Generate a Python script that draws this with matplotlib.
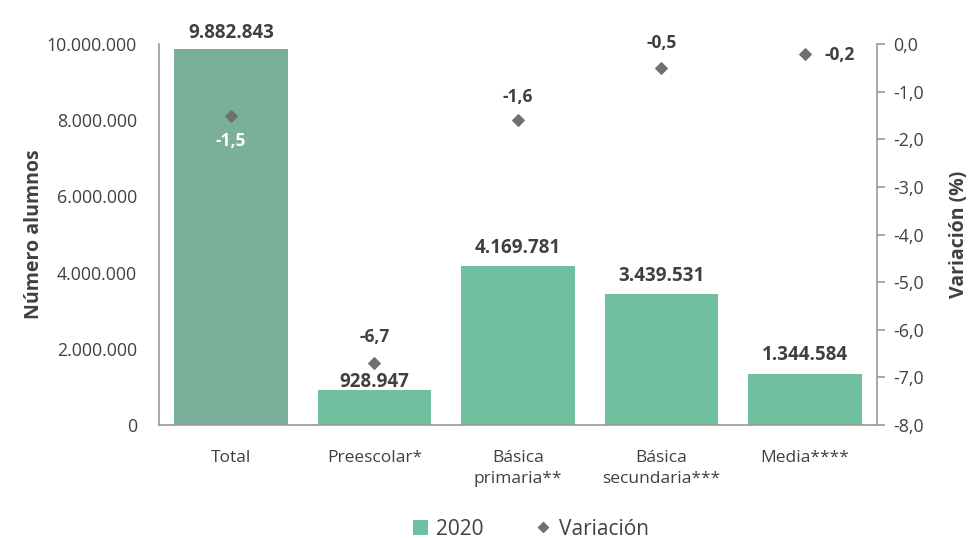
import numpy as np
import matplotlib.pyplot as plt
from matplotlib.lines import Line2D
from matplotlib.patches import Patch

plt.rcParams['font.family'] = ['Open Sans', 'DejaVu Sans']

## Data
categorias = ["Total", "Preescolar*", "Básica\nprimaria**", "Básica\nsecundaria***", "Media****"]
alumnos_2020 = [9882843, 928947, 4169781, 3439531, 1344584]
variacion = [-1.5, -6.7, -1.6, -0.5, -0.2]

def fmt_miles(v):
    return f"{v:,.0f}".replace(",", ".")

def fmt_dec(v):
    return f"{v:.1f}".replace(".", ",")

c_total = "#7aaf99"
c_bar = "#70c09f"
c_marker = "#707070"
c_text = "#404040"
c_spine = "#9a9a9a"

fig = plt.figure(figsize=(9.71, 5.38), dpi=100)
ax = fig.add_axes([0.1638, 0.21, 0.7392, 0.708])
ax2 = ax.twinx()

x = np.arange(len(categorias))
colores = [c_total] + [c_bar] * (len(categorias) - 1)
ax.bar(x, alumnos_2020, width=0.79, color=colores, zorder=2)
ax.set_xlim(-0.5, len(categorias) - 0.5)
ax.set_ylim(0, 10000000)
ax.set_yticks(np.arange(0, 10000001, 2000000))
ax.set_yticklabels([fmt_miles(v) for v in np.arange(0, 10000001, 2000000)])
ax.set_xticks(x)
ax.set_xticklabels(categorias, fontsize=12.5, color=c_text, linespacing=1.45)
ax.tick_params(axis='x', length=0, pad=18)
ax.tick_params(axis='y', length=0, labelsize=12.8, labelcolor=c_text, pad=16)
ax.set_ylabel("Número alumnos", fontsize=14, fontweight='bold', color=c_text, labelpad=2)

for sp in ["top", "right"]:
    ax.spines[sp].set_visible(False)
for sp in ["left", "bottom"]:
    ax.spines[sp].set_color(c_spine)
    ax.spines[sp].set_linewidth(1.2)

lbl_off = [4, -2, 6, 6, 6]
for xi, v, dy in zip(x, alumnos_2020, lbl_off):
    ax.annotate(fmt_miles(v), (xi, v), xytext=(0, dy), textcoords='offset points',
                ha='center', va='bottom', fontsize=13.5, fontweight='bold', color=c_text)

## Secondary axis
ax2.scatter(x, variacion, marker='D', s=34, color=c_marker, zorder=3)
ax2.set_ylim(-8, 0)
ax2.set_yticks(np.arange(-8, 0.1, 1))
ax2.set_yticklabels([fmt_dec(v) for v in np.arange(-8, 0.1, 1)])
ax2.tick_params(axis='y', direction='out', length=6, color=c_spine, width=1.2,
                labelsize=12.8, labelcolor=c_text, pad=6)
ax2.set_ylabel("Variación (%)", fontsize=14, fontweight='bold', color=c_text,
               rotation=90, labelpad=18)
for sp in ["top", "left", "bottom"]:
    ax2.spines[sp].set_visible(False)
ax2.spines["right"].set_color(c_spine)
ax2.spines["right"].set_linewidth(1.2)

offsets = [(0, -18), (0, 19), (0, 17), (0, 18), (25, -1)]
for xi, v, off in zip(x, variacion, offsets):
    col = "white" if xi == 0 else c_text
    ax2.annotate(fmt_dec(v), (xi, v), xytext=off, textcoords='offset points',
                 ha='center', va='center', fontsize=12.5, fontweight='bold', color=col)

handles = [Patch(facecolor=c_bar, label="2020"),
           Line2D([], [], marker='D', linestyle='none', color=c_marker, markersize=5, label="Variación")]
fig.legend(handles=handles, loc='lower center', bbox_to_anchor=(0.547, -0.038), ncol=2,
           frameon=False, fontsize=15, handlelength=0.7, handleheight=0.7, columnspacing=2.5,
           handletextpad=0.4, labelcolor=c_text)

fig.savefig("out.png", dpi=100)
